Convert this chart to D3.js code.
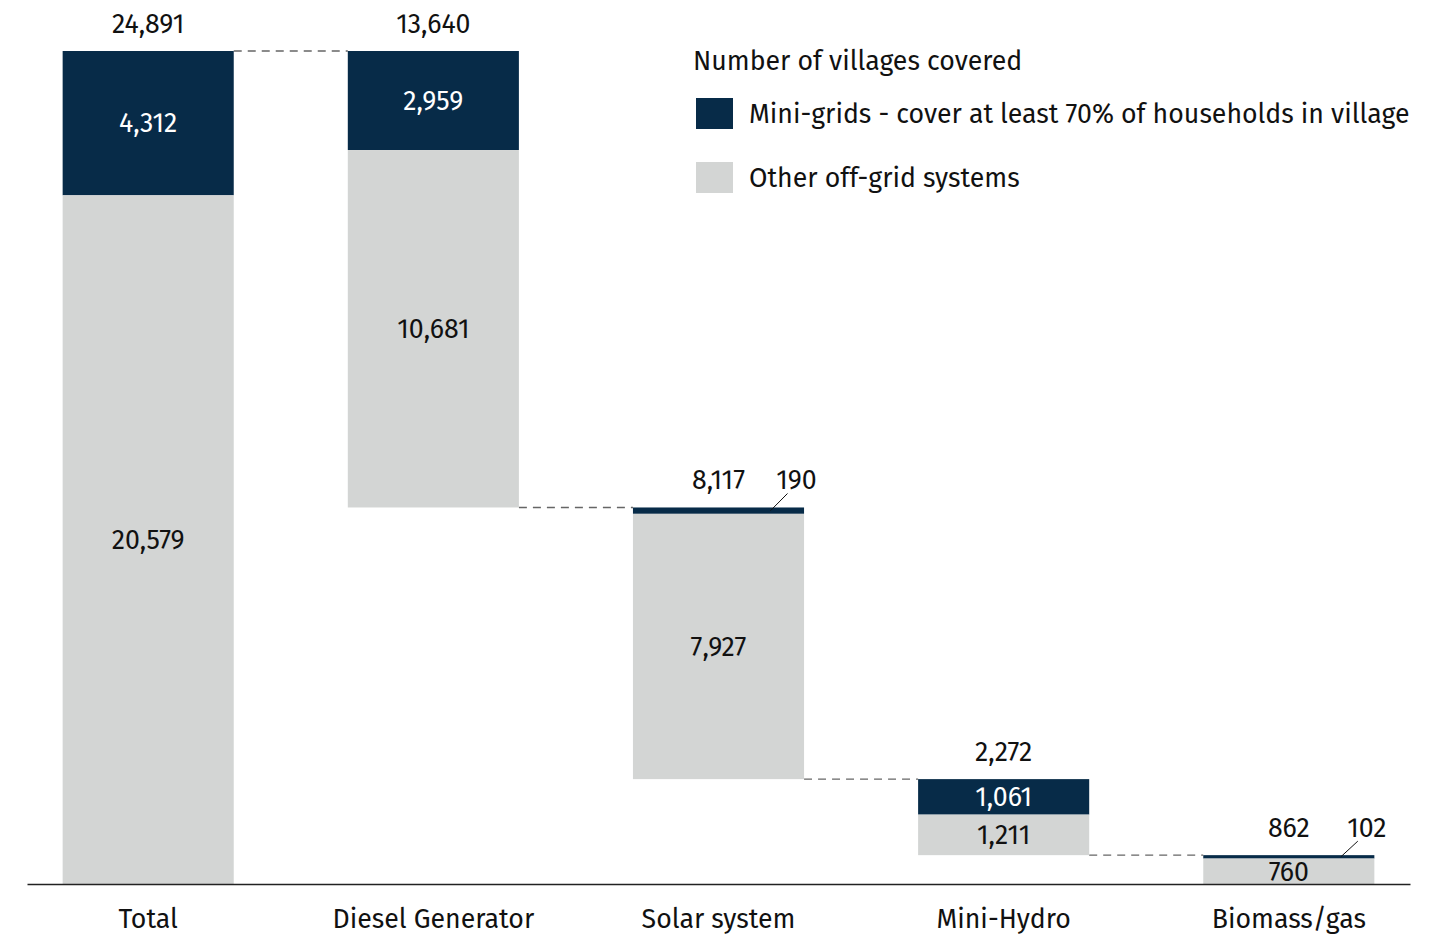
<!DOCTYPE html>
<html>
<head>
<meta charset="utf-8">
<script src="https://cdn.jsdelivr.net/npm/d3@7"></script>
<style>
  body { margin: 0; background: #fff; }
  text { font-family: "Fira Sans", Roboto, "Noto Sans", sans-serif; }
</style>
</head>
<body>
<div id="chart"></div>
<script>
// data
var categories = ["Total", "Diesel Generator", "Solar system", "Mini-Hydro", "Biomass/gas"];
var miniGrids = [4312, 2959, 190, 1061, 102];
var otherSystems = [20579, 10681, 7927, 1211, 760];
var legendTitle = "Number of villages covered";
var seriesNames = ["Mini-grids - cover at least 70% of households in village", "Other off-grid systems"];

var svgWidth = 1449;
var svgHeight = 936;
var colors = ["#072b48", "#d3d5d4"];
var fontSize = "26.7px";
var fmt = d3.format(",");

var svg = d3.select("#chart")
  .append("svg")
  .attr("width", svgWidth)
  .attr("height", svgHeight);

// build waterfall rows: Total stands on the baseline, the rest step down from it
var grandTotal = miniGrids[0] + otherSystems[0];
var running = grandTotal;
var rows = categories.map(function(c, i) {
  var total = miniGrids[i] + otherSystems[i];
  var top, bottom;
  if (i === 0) {
    top = total; bottom = 0;
  } else {
    top = running; bottom = running - total; running = bottom;
  }
  return { cat: c, mini: miniGrids[i], other: otherSystems[i], total: total, top: top, bottom: bottom };
});

var x = d3.scaleBand()
  .domain(categories)
  .range([27, 1410])
  .paddingInner(0.4)
  .paddingOuter(0.125);

var y = d3.scaleLinear()
  .domain([0, grandTotal])
  .range([884, 51]);

// connectors
for (var i = 0; i < rows.length - 1; i++) {
  var yy = i === 0 ? y(rows[0].top) : y(rows[i].bottom);
  svg.append("line")
    .attr("x1", x(rows[i].cat) + x.bandwidth())
    .attr("x2", x(rows[i + 1].cat))
    .attr("y1", yy)
    .attr("y2", yy)
    .attr("stroke", "#666")
    .attr("stroke-width", 1.3)
    .attr("stroke-dasharray", "8,6");
}

var groups = svg.selectAll(".bar")
  .data(rows)
  .enter()
  .append("g")
  .attr("class", "bar");

// mini-grid segment (top)
groups.append("rect")
  .attr("x", d => x(d.cat))
  .attr("width", x.bandwidth())
  .attr("y", d => y(d.top))
  .attr("height", d => y(d.top - d.mini) - y(d.top))
  .attr("fill", colors[0]);

// other segment (below)
groups.append("rect")
  .attr("x", d => x(d.cat))
  .attr("width", x.bandwidth())
  .attr("y", d => y(d.top - d.mini))
  .attr("height", d => y(d.bottom) - y(d.top - d.mini))
  .attr("fill", colors[1]);

// total labels
groups.append("text")
  .attr("x", d => x(d.cat) + x.bandwidth() / 2)
  .attr("y", d => y(d.top) - 18)
  .attr("text-anchor", "middle")
  .attr("font-size", fontSize)
  .attr("fill", "#111")
  .text(d => fmt(d.total));

// segment labels
groups.each(function(d) {
  var g = d3.select(this);
  var cx = x(d.cat) + x.bandwidth() / 2;
  var miniTop = y(d.top), miniBot = y(d.top - d.mini);
  if (miniBot - miniTop >= 24) {
    g.append("text")
      .attr("x", cx)
      .attr("y", (miniTop + miniBot) / 2)
      .attr("dy", "0.35em")
      .attr("text-anchor", "middle")
      .attr("font-size", fontSize)
      .attr("fill", "#fff")
      .text(fmt(d.mini));
  } else {
    // thin segment: label sits outside with a leader line
    g.append("line")
      .attr("x1", cx + 52)
      .attr("y1", (miniTop + miniBot) / 2)
      .attr("x2", cx + 69)
      .attr("y2", miniTop - 14)
      .attr("stroke", "#111")
      .attr("stroke-width", 1);
    g.append("text")
      .attr("x", cx + 78)
      .attr("y", miniTop - 18)
      .attr("text-anchor", "middle")
      .attr("font-size", fontSize)
      .attr("fill", "#111")
      .text(fmt(d.mini));
  }
  g.append("text")
    .attr("x", cx)
    .attr("y", (miniBot + y(d.bottom)) / 2)
    .attr("dy", "0.35em")
    .attr("text-anchor", "middle")
    .attr("font-size", fontSize)
    .attr("fill", "#111")
    .text(fmt(d.other));
});

// x axis
var xAxis = svg.append("g")
  .attr("transform", "translate(0, 884)")
  .call(d3.axisBottom(x).tickSize(0).tickSizeOuter(0).tickPadding(25));
xAxis.select(".domain").attr("stroke", "#222").attr("stroke-width", 1.3);
xAxis.selectAll("text")
  .attr("font-size", fontSize)
  .attr("fill", "#111")
  .style("font-family", "'Fira Sans', Roboto, 'Noto Sans', sans-serif");

// legend
var legend = svg.append("g").attr("transform", "translate(693, 0)");
legend.append("text")
  .attr("x", 0)
  .attr("y", 70)
  .attr("font-size", fontSize)
  .attr("fill", "#111")
  .text(legendTitle);

var items = legend.selectAll(".item")
  .data(seriesNames)
  .enter()
  .append("g")
  .attr("class", "item")
  .attr("transform", (d, i) => `translate(0, ${98 + i * 64})`);

items.append("rect")
  .attr("x", 3)
  .attr("width", 37)
  .attr("height", 31)
  .attr("fill", (d, i) => colors[i]);

items.append("text")
  .attr("x", 56)
  .attr("y", 15.5)
  .attr("dy", "0.35em")
  .attr("font-size", fontSize)
  .attr("fill", "#111")
  .text(d => d);
</script>
</body>
</html>
